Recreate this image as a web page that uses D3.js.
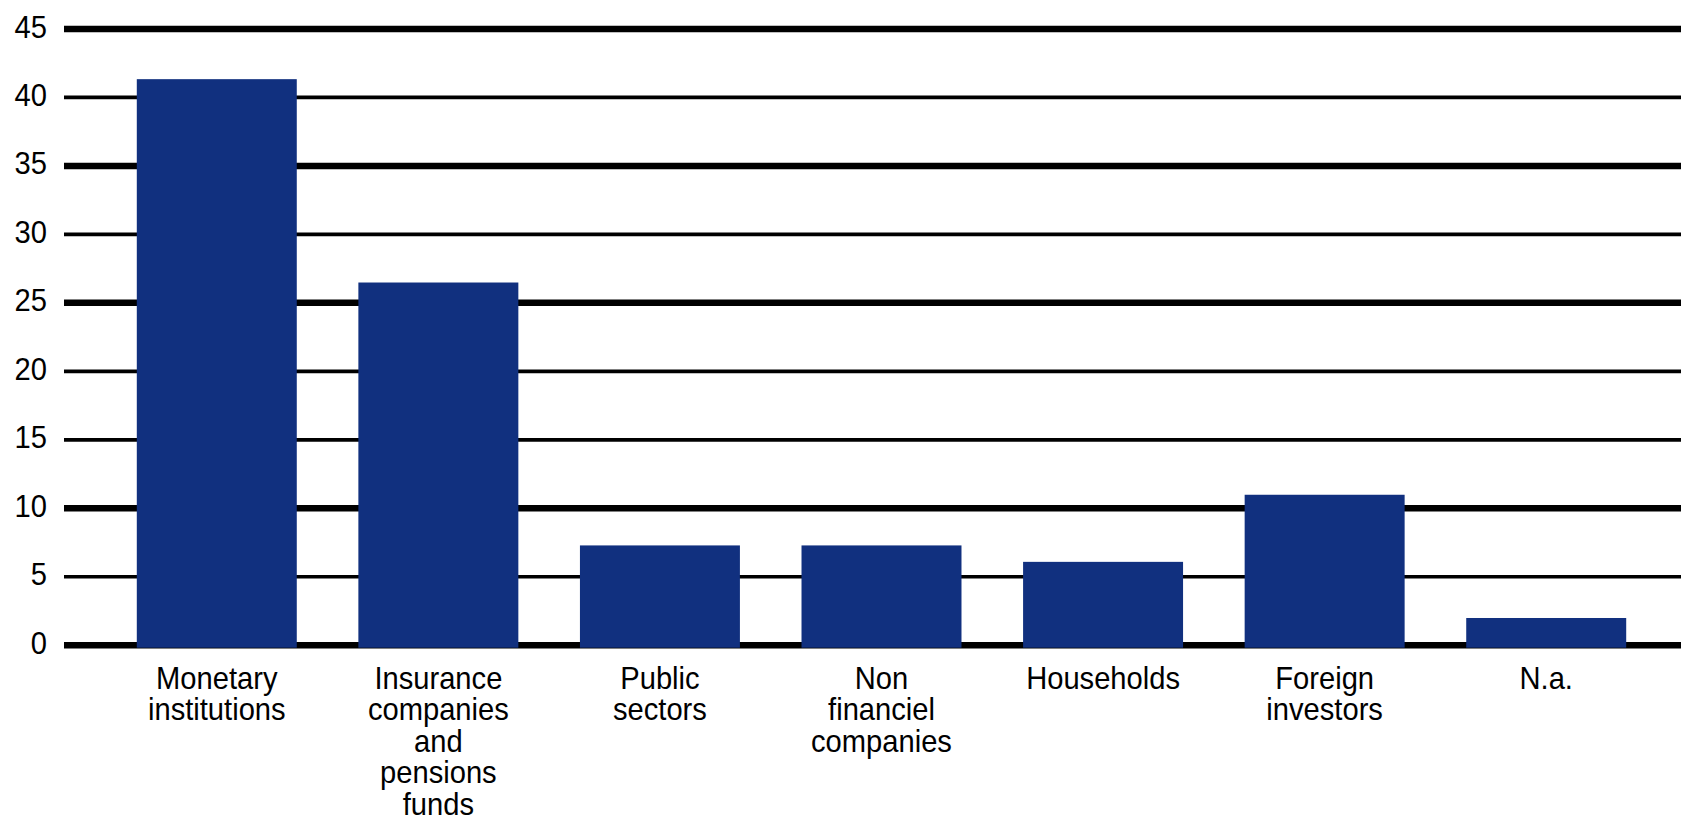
<!DOCTYPE html>
<html>
<head>
<meta charset="utf-8">
<script src="https://cdn.jsdelivr.net/npm/d3@7"></script>
<style>
  body { margin: 0; background: #fff; }
  svg { display: block; }
  .label { font-family: "Liberation Sans", Arial, Helvetica, sans-serif; font-size: 31px; fill: #000; }
</style>
</head>
<body>
<div id="container1"></div>
<script>
// data
const categories = ["Monetary institutions", "Insurance companies and pensions funds", "Public sectors",
  "Non financiel companies", "Households", "Foreign investors", "N.a."];
const labelLines = [
  ["Monetary", "institutions"],
  ["Insurance", "companies", "and", "pensions", "funds"],
  ["Public", "sectors"],
  ["Non", "financiel", "companies"],
  ["Households"],
  ["Foreign", "investors"],
  ["N.a."]
];
const values = [41.3, 26.45, 7.25, 7.25, 6.05, 10.95, 1.95];
const yTicks = [0, 5, 10, 15, 20, 25, 30, 35, 40, 45];

(function () {
  const width = 1681;
  const height = 822;
  const gridLeft = 64;
  const barColor = "#11307f";
  // the source image shows alternating line weights
  const thickTicks = [0, 10, 25, 35, 45];

  const svg = d3.select("#container1")
    .append("svg")
    .attr("width", width)
    .attr("height", height);

  // Create scales
  const x = d3.scaleBand()
    .domain(categories)
    .range([106, 1657])
    .paddingInner(0.278)
    .paddingOuter(0.139);

  const y = d3.scaleLinear()
    .domain([0, 45])
    .range([644.7, 28.5]);

  // Draw gridlines + tick labels
  const yAxis = d3.axisLeft(y)
    .tickValues(yTicks)
    .tickSize(-(width - gridLeft))
    .tickFormat(d3.format("d"));

  const grid = svg.append("g")
    .attr("transform", `translate(${gridLeft},0)`)
    .call(yAxis);

  grid.select(".domain").remove();

  grid.selectAll(".tick line")
    .attr("stroke", "#000")
    .attr("stroke-width", d => thickTicks.includes(d) ? 6.5 : 3.7);

  grid.selectAll(".tick text")
    .attr("class", "label")
    .attr("x", null)
    .attr("dy", null)
    .attr("fill", "#000")
    .attr("font-family", null)
    .attr("font-size", null)
    .attr("text-anchor", "end")
    .attr("transform", "translate(-17, 8.5) scale(0.94, 1)");

  // Draw bars
  svg.append("g")
    .selectAll("rect")
    .data(values)
    .join("rect")
    .attr("x", (d, i) => x(categories[i]))
    .attr("y", d => y(d))
    .attr("width", x.bandwidth())
    .attr("height", d => y(0) - y(d) + 3)
    .attr("fill", barColor);

  // Category labels
  const labels = svg.append("g")
    .selectAll("text")
    .data(labelLines)
    .join("text")
    .attr("class", "label")
    .attr("text-anchor", "middle")
    .attr("transform", (d, i) => `translate(${x(categories[i]) + x.bandwidth() / 2}, 689) scale(0.94, 1)`);

  labels.selectAll("tspan")
    .data(d => d)
    .join("tspan")
    .attr("x", 0)
    .attr("dy", (d, i) => i === 0 ? 0 : 31.4)
    .text(d => d);
})();
</script>
</body>
</html>
